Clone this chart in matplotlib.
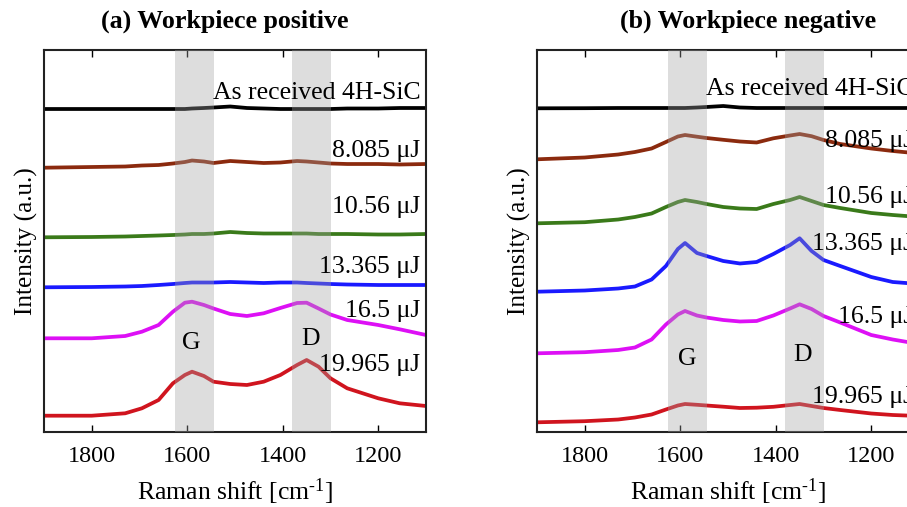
import matplotlib
matplotlib.use("Agg")
import matplotlib.pyplot as plt

plt.rcParams['font.family'] = ['Liberation Serif', 'DejaVu Serif']
plt.rcParams['mathtext.fontset'] = 'custom'
plt.rcParams['mathtext.rm'] = 'Liberation Serif'
plt.rcParams['mathtext.it'] = 'Liberation Serif:italic'

# Raman shift sample positions (cm^-1)
shift = [1900, 1800, 1730, 1695, 1660, 1630, 1605, 1590, 1565, 1545, 1510,
         1475, 1440, 1405, 1370, 1350, 1325, 1300, 1265, 1200, 1155, 1100]

labels = ["As received 4H-SiC", "8.085 \u03bcJ", "10.56 \u03bcJ",
          "13.365 \u03bcJ", "16.5 \u03bcJ", "19.965 \u03bcJ"]
colors = ["#000000", "#8B2A0E", "#3A7A1A", "#1A1AFF", "#DD10F5", "#D0141E"]

# (a) Workpiece positive - stacked intensities (a.u.)
pos_asrec = [323, 323, 323, 323, 323, 323, 323, 323.5, 324, 324.5, 325.5,
             324, 323.5, 323, 323, 323, 323, 323, 323.5, 323.5, 324, 324]
pos_8085 = [264.3, 265, 265.5, 266.5, 267, 268.5, 270, 271.5, 270.5, 269, 271,
            270, 269, 269.5, 271, 270.5, 269.5, 268.5, 268, 268, 267.5, 268]
pos_1056 = [194.7, 195, 195.5, 196, 196.5, 197, 197.5, 198, 198, 198.5, 200,
            199, 198.5, 198.5, 198.5, 198.5, 198, 198, 198, 197.5, 197.5, 198]
pos_13365 = [144.7, 145, 145.5, 146, 147, 148, 149, 149.5, 149.5, 149.5, 150,
             149.5, 149, 149.5, 149.5, 149, 148.5, 148, 147.5, 147, 147, 147]
pos_165 = [93.7, 93.7, 96, 100.3, 107, 120.3, 129.3, 130.3, 127, 123.5, 118,
           116, 118.7, 124, 129, 129.3, 123.5, 117.5, 112, 107, 102.7, 97]
pos_19965 = [16.3, 16.3, 18.7, 23.7, 32, 48.7, 57, 60.3, 56, 50.3, 48,
             47, 50.3, 57, 67, 72, 65.3, 53.7, 43.7, 33.7, 28.7, 26]

# (b) Workpiece negative
neg_asrec = [323.7, 323.8, 324, 324, 324, 324, 324, 324, 324.5, 325, 326,
             324.5, 324, 324, 324, 324, 324, 324, 324, 324, 324, 324]
neg_8085 = [272.7, 274.5, 277.5, 280, 283.5, 290, 295.5, 297, 295.3, 294, 292.2,
            290.5, 289.5, 293.7, 296.5, 298, 295.8, 292, 288, 283.5, 281, 278.5]
neg_1056 = [208.7, 209.8, 212.5, 215, 218.5, 225, 230, 232, 230, 228, 225,
            223.5, 223, 228, 232, 235, 231, 227, 224, 219, 217, 215]
neg_13365 = [140.3, 141.5, 143.5, 145.5, 152.5, 166, 183, 189, 179, 176, 171,
             168.5, 170, 178, 187, 193.7, 181, 172, 166, 155, 150, 148]
neg_165 = [78.7, 79.8, 82, 84.5, 92.5, 107.5, 117.5, 121, 116.5, 114.5, 112,
           110.5, 111, 116.5, 123.5, 127.7, 123, 116, 109.5, 97, 92.5, 88]
neg_19965 = [9.7, 10.8, 12.5, 14.5, 17.5, 22.5, 26.5, 28, 27.2, 26.5, 25.3,
             24, 24.3, 25.2, 27, 28, 26, 24, 22, 18.5, 17, 16]

# label baselines (same units)
pos_label_y = [332.7, 275.3, 218.7, 158.7, 115.3, 61.3]
neg_label_y = [337.0, 285.3, 228.7, 182.0, 108.7, 28.7]
label_x = 1112

band_G = (1545, 1625)
band_D = (1300, 1380)
pos_GD = [(1592, 83, "G"), (1342, 87, "D")]
neg_GD = [(1586, 67, "G"), (1343, 71, "D")]

W, H = 907, 507
fig = plt.figure(figsize=(W / 100, H / 100), dpi=100)

panels = [
    dict(rect=[44 / W, 75 / H, 382 / W, 382 / H],
         series=[pos_asrec, pos_8085, pos_1056, pos_13365, pos_165, pos_19965],
         ly=pos_label_y, gd=pos_GD, title="(a) Workpiece positive", tx=224.5),
    dict(rect=[537 / W, 75 / H, 382 / W, 382 / H],
         series=[neg_asrec, neg_8085, neg_1056, neg_13365, neg_165, neg_19965],
         ly=neg_label_y, gd=neg_GD, title="(b) Workpiece negative", tx=748),
]

for p in panels:
    ax = fig.add_axes(p["rect"])
    for s, c in zip(p["series"], colors):
        ax.plot(shift, s, color=c, lw=2.7, solid_capstyle='butt',
                solid_joinstyle='round', zorder=2)
    for lo, hi in (band_G, band_D):
        ax.axvspan(lo, hi, color=(0.63, 0.63, 0.63), alpha=0.36, lw=0, zorder=3)
    for t, y in zip(labels, p["ly"]):
        ax.text(label_x, y, t, ha='right', va='baseline', fontsize=18.5, zorder=5,
                clip_on=False)
    for x, y, t in p["gd"]:
        ax.text(x, y, t, ha='center', va='baseline', fontsize=18.5, zorder=5)
    ax.set_xlim(1900, 1100)
    ax.set_ylim(0, 382)
    ax.set_xticks([1800, 1600, 1400, 1200])
    ax.set_yticks([])
    ax.tick_params(axis='x', direction='in', top=True, length=5, width=1,
                   labelsize=17.5, pad=10)
    for sp in ax.spines.values():
        sp.set_linewidth(1.5)
        sp.set_color('#222222')
    ax.set_xlabel("Raman shift [cm$^{\\text{-1}}$]", fontsize=18.5, labelpad=7)
    ax.set_ylabel("Intensity (a.u.)", fontsize=18.2, labelpad=4)
    fig.text(p["tx"] / W, 1 - 28 / H, p["title"], ha='center', va='baseline',
             fontsize=18.7, fontweight='bold')

fig.savefig("out.png", dpi=100)
